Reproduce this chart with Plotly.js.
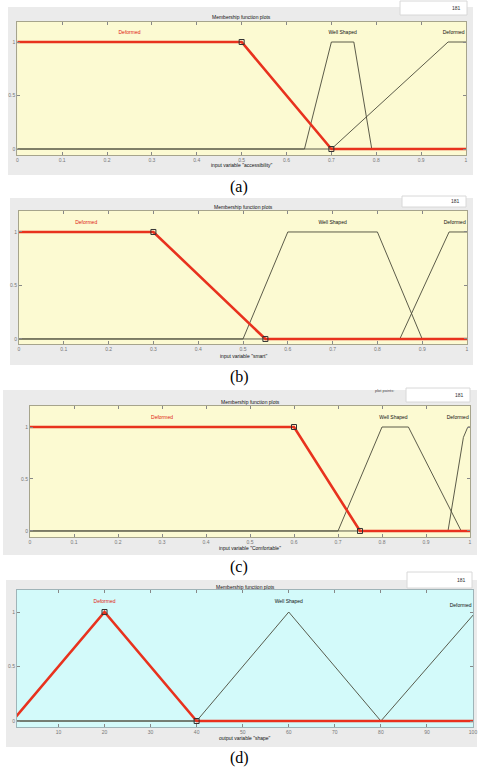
<!DOCTYPE html>
<html>
<head>
<meta charset="utf-8">
<script src="https://cdn.plot.ly/plotly-3.0.1.min.js"></script>
<style>html,body{margin:0;padding:0;background:#fff}#plot{width:478px;height:771px}</style>
</head>
<body>
<div id="plot"></div>
<script>
// ---------- data (membership-function vertices) ----------
// (a) input variable "accessibility"
const aDeformedX = [0, 0.5, 0.7, 1];
const aDeformedY = [1, 1, 0, 0];
const aWellX = [0, 0.64, 0.7, 0.75, 0.79, 1];
const aWellY = [0, 0, 1, 1, 0, 0];
const aOverX = [0, 0.7, 0.96, 1];
const aOverY = [0, 0, 1, 1];
// (b) input variable "smart"
const bDeformedX = [0, 0.3, 0.55, 1];
const bDeformedY = [1, 1, 0, 0];
const bWellX = [0, 0.5, 0.6, 0.8, 0.9, 1];
const bWellY = [0, 0, 1, 1, 0, 0];
const bOverX = [0, 0.85, 0.96, 1];
const bOverY = [0, 0, 1, 1];
// (c) input variable "Comfortable"
const cDeformedX = [0, 0.6, 0.75, 1];
const cDeformedY = [1, 1, 0, 0];
const cWellX = [0, 0.7, 0.8, 0.86, 0.98, 1];
const cWellY = [0, 0, 1, 1, 0, 0];
const cOverX = [0, 0.95, 0.985, 0.995, 1];
const cOverY = [0, 0, 0.9, 1, 1];
// (d) output variable "shape"
const dDeformedX = [0, 20, 40, 100];
const dDeformedY = [0, 1, 0, 0];
const dWellX = [1, 40, 60, 80, 100];
const dWellY = [0, 0, 1, 0, 0];
const dOverX = [1, 80, 100.6];
const dOverY = [0, 0, 1];

const mfNames = ["Deformed", "Well Shaped", "Deformed"];
const varNames = ['input variable "accessibility"', 'input variable "smart"',
                  'input variable "Comfortable"', 'output variable "shape"'];
const captions = ["(a)", "(b)", "(c)", "(d)"];
const labelX = [[0.25, 0.725, 0.997], [0.15, 0.7, 0.997], [0.3, 0.826, 0.997], [20, 60, 99.7]];
const labelY = [[1.09, 1.09, 1.09], [1.09, 1.09, 1.09], [1.09, 1.09, 1.09], [1.09, 1.09, 1.06]];
const markerX = [[0.5, 0.7], [0.3, 0.55], [0.6, 0.75], [20, 40]];
const markerY = [[1, 0], [1, 0], [1, 0], [1, 0]];
const yTicks = [0, 0.5, 1];
const yTickText = ["0", "0.5", "1"];
const xTicksUnit = [0, 0.1, 0.2, 0.3, 0.4, 0.5, 0.6, 0.7, 0.8, 0.9, 1];
const xTicksD = [10, 20, 30, 40, 50, 60, 70, 80, 90, 100];

// ---------- layout geometry (pixels) ----------
const W = 478, H = 771;
const fx = p => p / W, fy = p => 1 - p / H;
const panels = [
  {gray:[8,7,473,175], plot:[17.3,22,466,155], yr:[-0.056,1.187], xr:[0,1], bg:"#fcfad2", box:[400,1,467,15], title:17, xlab:165, cap:187},
  {gray:[10,198,473,365], plot:[19,211,467,344], yr:[-0.047,1.196], xr:[0,1], bg:"#fcfad2", box:[402,196,466,207], title:207, xlab:356, cap:377},
  {gray:[3,390,477,555], plot:[30,406,470,537], yr:[-0.058,1.202], xr:[0,1], bg:"#fcfad2", box:[406,388,470,402], title:402, xlab:548, cap:567},
  {gray:[6,580,477,747], plot:[17,590,473,727], yr:[-0.055,1.202], xr:[1,100], bg:"#d3fafa", box:[407,572,472,588], title:587, xlab:738, cap:758}
];
const mfData = [
  [[aWellX,aWellY],[aOverX,aOverY],[aDeformedX,aDeformedY]],
  [[bWellX,bWellY],[bOverX,bOverY],[bDeformedX,bDeformedY]],
  [[cWellX,cWellY],[cOverX,cOverY],[cDeformedX,cDeformedY]],
  [[dWellX,dWellY],[dOverX,dOverY],[dDeformedX,dDeformedY]]
];

const traces = [], shapes = [], annotations = [];
const layout = {
  width: W, height: H, margin: {l:0, r:0, t:0, b:0},
  paper_bgcolor: "#ffffff", plot_bgcolor: "rgba(0,0,0,0)",
  showlegend: false, font: {family: "Liberation Sans, Arial, sans-serif"}
};

panels.forEach((p, i) => {
  const n = i === 0 ? "" : String(i + 1);
  const xa = "x" + n, ya = "y" + n;
  const axLine = i === 3 ? "#9fb4b8" : "#a6a48c";
  layout["xaxis" + n] = {
    domain: [fx(p.plot[0]), fx(p.plot[2])], range: p.xr, anchor: ya,
    showgrid: false, zeroline: false, showline: true, linecolor: axLine, linewidth: 1,
    mirror: "ticks", ticks: "inside", ticklen: 3, tickcolor: "#888",
    tickvals: i === 3 ? xTicksD : xTicksUnit,
    tickfont: {size: 5, color: "#777"}, fixedrange: true
  };
  layout["yaxis" + n] = {
    domain: [fy(p.plot[3]), fy(p.plot[1])], range: p.yr, anchor: xa,
    showgrid: false, zeroline: false, showline: true, linecolor: axLine, linewidth: 1,
    mirror: "ticks", ticks: "inside", ticklen: 3, tickcolor: "#888",
    tickvals: yTicks, ticktext: yTickText,
    tickfont: {size: 5, color: "#777"}, fixedrange: true
  };
  shapes.push({type:"rect", xref:"paper", yref:"paper", layer:"below",
    x0:fx(p.gray[0]), x1:fx(p.gray[2]), y0:fy(p.gray[3]), y1:fy(p.gray[1]),
    fillcolor:"#ebebeb", line:{width:0}});
  shapes.push({type:"rect", xref:"paper", yref:"paper", layer:"below",
    x0:fx(p.plot[0]), x1:fx(p.plot[2]), y0:fy(p.plot[3]), y1:fy(p.plot[1]),
    fillcolor:p.bg, line:{width:0}});
  shapes.push({type:"rect", xref:"paper", yref:"paper", layer:"below",
    x0:fx(p.box[0]), x1:fx(p.box[2]), y0:fy(p.box[3]), y1:fy(p.box[1]),
    fillcolor:"#ffffff", line:{width:1, color:"#d8d8d8"}});
  annotations.push({xref:"paper", yref:"paper", x:fx(p.box[2]-4), y:fy((p.box[1]+p.box[3])/2),
    xanchor:"right", yanchor:"middle", text:"181", showarrow:false,
    font:{size:5, color:"#333"}});
  if (i === 2) {
    annotations.push({xref:"paper", yref:"paper", x:fx(384), y:fy(390),
      xanchor:"center", yanchor:"middle", text:"plot points:", showarrow:false,
      font:{size:4, color:"#444"}});
  }
  annotations.push({xref:"paper", yref:"paper", x:fx((p.plot[0]+p.plot[2])/2), y:fy(p.title),
    xanchor:"center", yanchor:"middle", text:"Membership function plots", showarrow:false,
    font:{size:5, color:"#111"}});
  annotations.push({xref:"paper", yref:"paper", x:fx((p.plot[0]+p.plot[2])/2), y:fy(p.xlab),
    xanchor:"center", yanchor:"middle", text:varNames[i], showarrow:false,
    font:{size:5, color:"#111"}});
  annotations.push({xref:"paper", yref:"paper", x:fx(239), y:fy(p.cap),
    xanchor:"center", yanchor:"middle", text:captions[i], showarrow:false,
    font:{size:16, color:"#000", family:"Liberation Serif, Times New Roman, serif"}});

  const [well, over, deformed] = mfData[i];
  [well, over].forEach(mf => traces.push({type:"scatter", mode:"lines", x:mf[0], y:mf[1],
    xaxis:xa, yaxis:ya, line:{color:"#4a4a3a", width:0.9}, hoverinfo:"skip"}));
  traces.push({type:"scatter", mode:"lines", x:deformed[0], y:deformed[1],
    xaxis:xa, yaxis:ya, line:{color:"#e8321e", width:2.6}, hoverinfo:"skip"});
  traces.push({type:"scatter", mode:"markers", x:markerX[i], y:markerY[i],
    xaxis:xa, yaxis:ya, marker:{symbol:"square-open", size:5, color:"#333", line:{width:1}},
    hoverinfo:"skip"});
  traces.push({type:"scatter", mode:"text", x:labelX[i], y:labelY[i], text:mfNames,
    xaxis:xa, yaxis:ya, cliponaxis:false,
    textposition:["middle center", "middle center", "middle left"],
    textfont:{size:5, color:["#e02010", "#111", "#111"]}, hoverinfo:"skip"});
});

layout.shapes = shapes;
layout.annotations = annotations;
Plotly.newPlot("plot", traces, layout, {staticPlot:true});
</script>
</body>
</html>
